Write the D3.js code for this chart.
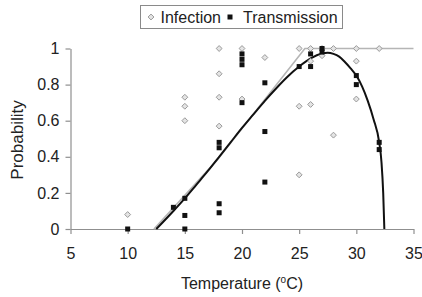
<!DOCTYPE html>
<html>
<head>
<meta charset="utf-8">
<script src="https://cdn.jsdelivr.net/npm/d3@7"></script>
<style>
  body { margin: 0; background: #fff; }
  text { font-family: "Liberation Sans", Arial, sans-serif; fill: #222; }
</style>
</head>
<body>
<svg id="chart"></svg>
<script>
// observed points, [temperature, probability]
const infection = [
  [10, 0.08],
  [15, 0.73], [15, 0.68], [15, 0.60],
  [18, 1.0], [18, 0.86], [18, 0.73], [18, 0.57],
  [20, 1.0], [20, 0.72],
  [22, 0.95],
  [25, 1.0], [25, 0.68], [25, 0.30],
  [26, 1.0], [26, 0.93], [26, 0.69],
  [27, 1.0], [27, 0.96],
  [28, 1.0], [28, 0.52],
  [30, 1.0], [30, 0.93], [30, 0.72],
  [32, 1.0]
];
const transmission = [
  [10, 0],
  [14, 0.12],
  [15, 0.17], [15, 0.075], [15, 0],
  [18, 0.48], [18, 0.45], [18, 0.14], [18, 0.09],
  [20, 0.97], [20, 0.94], [20, 0.91], [20, 0.70],
  [22, 0.81], [22, 0.54], [22, 0.26],
  [25, 0.90],
  [26, 0.97], [26, 0.90],
  [27, 1.0], [27, 0.98],
  [30, 0.85], [30, 0.80],
  [32, 0.48], [32, 0.44]
];
// fitted curves
const infectionFit = [[12.3, 0], [17.8, 0.38], [25.5, 1.0], [35, 1.0]];
const transmissionFit = [
  [12.5, 0], [14, 0.1], [15, 0.17], [16, 0.245], [17, 0.32], [18, 0.40],
  [19, 0.48], [20, 0.56], [21, 0.635], [22, 0.71], [23, 0.78], [24, 0.845],
  [25, 0.90], [26, 0.945], [27, 0.972], [27.5, 0.976], [28, 0.97],
  [28.5, 0.955], [29, 0.925], [29.5, 0.89], [30, 0.85], [30.5, 0.79],
  [31, 0.71], [31.5, 0.61], [32, 0.48], [32.2, 0.37], [32.35, 0.2], [32.45, 0]
];
const xTicks = [5, 10, 15, 20, 25, 30, 35];
const yTicks = [0, 0.2, 0.4, 0.6, 0.8, 1];

let width = 422;
let height = 297;
let svg = d3.select('#chart')
            .attr('width', width)
            .attr('height', height)

let xScale = d3.scaleLinear().domain([5, 35]).range([70.5, 413.5]);
let yScale = d3.scaleLinear().domain([0, 1]).range([229, 48.5]);

const axisColor = '#8f8f8f';

function drawAxes(){
  let xAxis = d3.axisBottom(xScale).tickValues(xTicks).tickSize(5).tickPadding(14).tickSizeOuter(0);
  let yAxis = d3.axisLeft(yScale).tickValues(yTicks).tickSize(5).tickPadding(6)
                .tickSizeOuter(0).tickFormat(d3.format('~g'));

  let gx = svg.append('g')
     .attr('transform', 'translate(0,' + yScale(0) + ')')
     .call(xAxis)
  let gy = svg.append('g')
     .attr('transform', 'translate(' + xScale(5) + ',0)')
     .call(yAxis)

  for (let g of [gx, gy]) {
    g.select('.domain').attr('stroke', axisColor).attr('stroke-width', 1.2)
    g.selectAll('.tick line').attr('stroke', axisColor).attr('stroke-width', 1.2)
    g.selectAll('.tick text').style('font-size', '16px').attr('fill', '#222')
  }
}

function drawLines(){
  let line = d3.line().x(d => xScale(d[0])).y(d => yScale(d[1]));

  svg.append('path')
     .datum(infectionFit)
     .attr('d', line)
     .attr('fill', 'none')
     .attr('stroke', '#b5b5b5')
     .attr('stroke-width', 1.6)

  svg.append('path')
     .datum(transmissionFit)
     .attr('d', line.curve(d3.curveMonotoneX))
     .attr('fill', 'none')
     .attr('stroke', '#111')
     .attr('stroke-width', 2)
}

const diamond = d3.symbol().type(d3.symbolDiamond2).size(22);

function drawPoints(){
  svg.selectAll('.inf')
     .data(infection)
     .enter()
     .append('path')
     .attr('class', 'inf')
     .attr('d', diamond)
     .attr('transform', d => 'translate(' + xScale(d[0]) + ',' + yScale(d[1]) + ')')
     .attr('fill', '#e4e4e4')
     .attr('stroke', '#9a9a9a')
     .attr('stroke-width', 1)

  svg.selectAll('.trans')
     .data(transmission)
     .enter()
     .append('rect')
     .attr('class', 'trans')
     .attr('x', d => xScale(d[0]) - 2.5)
     .attr('y', d => yScale(d[1]) - 2.5)
     .attr('width', 5)
     .attr('height', 5)
     .attr('fill', '#111')
}

function drawLabels(){
  let t = svg.append('text')
     .attr('x', 242)
     .attr('y', 289)
     .attr('text-anchor', 'middle')
     .style('font-size', '16px')
  t.append('tspan').text('Temperature (')
  t.append('tspan').text('o').style('font-size', '10px').attr('dy', -6)
  t.append('tspan').text('C)').attr('dy', 6)

  svg.append('text')
     .attr('transform', 'translate(23,140) rotate(-90)')
     .attr('text-anchor', 'middle')
     .style('font-size', '17px')
     .text('Probability')
}

function drawLegend(){
  let lg = svg.append('g')
  lg.append('rect')
    .attr('x', 140.5).attr('y', 5.5)
    .attr('width', 202).attr('height', 23)
    .attr('fill', '#fff')
    .attr('stroke', '#8a8a8a')
  lg.append('path')
    .attr('d', diamond)
    .attr('transform', 'translate(151,17)')
    .attr('fill', '#e4e4e4')
    .attr('stroke', '#9a9a9a')
  lg.append('text').attr('x', 160.5).attr('y', 23).style('font-size', '16px').text('Infection')
  lg.append('rect')
    .attr('x', 227.5).attr('y', 14.5).attr('width', 5).attr('height', 5)
    .attr('fill', '#111')
  lg.append('text').attr('x', 243).attr('y', 23).style('font-size', '16px').text('Transmission')
}

drawAxes();
drawLines();
drawPoints();
drawLabels();
drawLegend();
</script>
</body>
</html>
